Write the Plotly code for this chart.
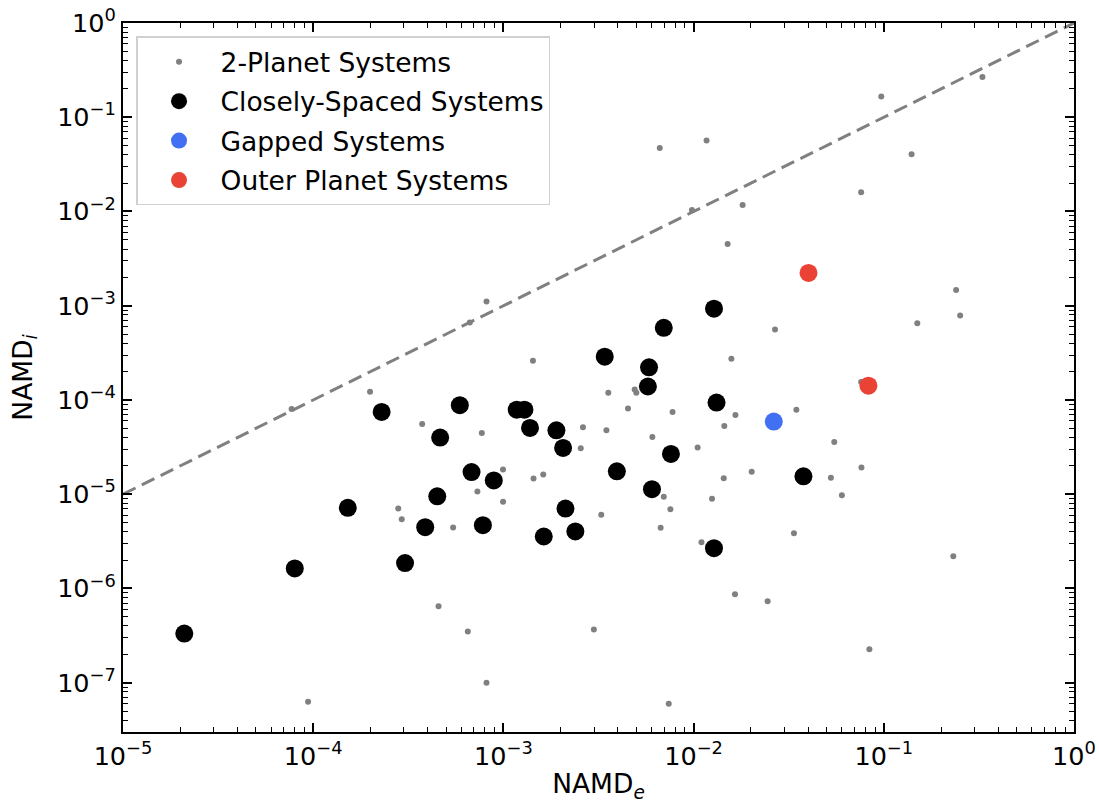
import numpy as np
import plotly.graph_objects as go

# ---- data ----
two_planet_x = [8.15e-4, 6.66e-4, 1.43e-3, 1.99e-4, 7.7e-5, 3.74e-4, 7.7e-4, 2.62e-3, 2.55e-3, 9.95e-4,
                1.44e-3, 1.62e-3, 7.3e-4, 9.96e-4, 2.8e-4, 2.92e-4, 5.44e-4, 4.56e-4, 6.5e-4, 2.99e-3,
                8.15e-4, 9.4e-5, 6.64e-3, 1.17e-2, 9.7e-2, 0.33, 0.14, 7.6e-2, 1.81e-2, 9.8e-3,
                1.51e-2, 0.240, 0.252, 0.150, 2.68e-2, 1.58e-2, 3.56e-3, 4.9e-3, 5.0e-3, 7.6e-2,
                4.52e-3, 7.75e-3, 1.66e-2, 1.45e-2, 3.47e-2, 3.48e-3, 6.07e-3, 5.49e-2, 1.05e-2, 2.02e-2,
                1.44e-2, 5.27e-2, 7.63e-2, 6.02e-2, 6.97e-3, 1.25e-2, 7.55e-3, 3.27e-3, 6.71e-3, 3.37e-2,
                1.10e-2, 0.232, 1.65e-2, 2.45e-2, 8.4e-2, 7.4e-3]
two_planet_y = [1.11e-3, 6.64e-4, 2.61e-4, 1.22e-4, 8.0e-5, 5.57e-5, 4.47e-5, 5.13e-5, 3.07e-5, 1.83e-5,
                1.47e-5, 1.62e-5, 1.07e-5, 8.3e-6, 7.05e-6, 5.43e-6, 4.44e-6, 6.47e-7, 3.49e-7, 3.66e-7,
                1.0e-7, 6.27e-8, 4.71e-2, 5.68e-2, 0.166, 0.268, 4.04e-2, 1.6e-2, 1.17e-2, 1.04e-2,
                4.53e-3, 1.47e-3, 7.9e-4, 6.5e-4, 5.6e-4, 2.74e-4, 1.19e-4, 1.29e-4, 1.19e-4, 1.55e-4,
                8.1e-5, 7.46e-5, 6.93e-5, 5.3e-5, 7.9e-5, 4.77e-5, 4.06e-5, 3.59e-5, 3.13e-5, 1.73e-5,
                1.48e-5, 1.50e-5, 1.92e-5, 9.76e-6, 9.38e-6, 8.93e-6, 6.93e-6, 6.05e-6, 4.4e-6, 3.86e-6,
                3.1e-6, 2.2e-6, 8.7e-7, 7.3e-7, 2.26e-7, 6.0e-8]

close_x = [2.1e-5, 8.0e-5, 1.52e-4, 2.29e-4, 3.04e-4, 3.88e-4, 4.49e-4, 4.65e-4, 5.9e-4, 6.8e-4,
           7.8e-4, 8.9e-4, 1.175e-3, 1.29e-3, 1.38e-3, 1.90e-3, 2.06e-3, 2.12e-3, 1.63e-3, 2.39e-3,
           3.41e-3, 3.95e-3, 5.83e-3, 5.75e-3, 6.04e-3, 6.97e-3, 7.6e-3, 1.28e-2, 1.32e-2, 1.28e-2,
           3.78e-2]
close_y = [3.32e-7, 1.63e-6, 7.18e-6, 7.46e-5, 1.86e-6, 4.47e-6, 9.5e-6, 3.99e-5, 8.8e-5, 1.72e-5,
           4.7e-6, 1.40e-5, 7.9e-5, 7.9e-5, 5.05e-5, 4.77e-5, 3.10e-5, 7.05e-6, 3.56e-6, 4.03e-6,
           2.88e-4, 1.75e-5, 2.22e-4, 1.39e-4, 1.13e-5, 5.83e-4, 2.68e-5, 9.3e-4, 9.4e-5, 2.68e-6,
           1.55e-5]

gapped_x = [2.64e-2]
gapped_y = [5.9e-5]

outer_x = [4.02e-2, 8.3e-2]
outer_y = [2.23e-3, 1.42e-4]

ref_line = [1e-5, 1.0]  # y = x

x_tick_exps = [-5, -4, -3, -2, -1, 0]
y_tick_exps = [-7, -6, -5, -4, -3, -2, -1, 0]
y_min = 3e-8

FONT = "DejaVu Sans"
MINUS = "\u2212"


def tick_text(e):
    return "10<sup>" + (MINUS if e < 0 else "") + str(abs(e)) + "</sup>"


def minor_vals(lo_exp, hi_exp, lo_val=None):
    vals = []
    for e in range(lo_exp, hi_exp):
        for k in range(2, 10):
            v = k * 10.0 ** e
            if lo_val is None or v >= lo_val:
                vals.append(v)
    return vals


fig = go.Figure()

fig.add_trace(go.Scatter(x=two_planet_x, y=two_planet_y, mode="markers", name="2-Planet Systems",
                         legendgroup="a", marker=dict(color="#808080", size=6, line=dict(width=0))))
fig.add_trace(go.Scatter(x=close_x, y=close_y, mode="markers", name="Closely-Spaced Systems",
                         legendgroup="b", marker=dict(color="#000000", size=18, line=dict(width=0))))
fig.add_trace(go.Scatter(x=gapped_x, y=gapped_y, mode="markers", name="Gapped Systems",
                         legendgroup="c", marker=dict(color="#4270F2", size=18, line=dict(width=0))))
fig.add_trace(go.Scatter(x=outer_x, y=outer_y, mode="markers", name="Outer Planet Systems",
                         legendgroup="d", marker=dict(color="#EA4335", size=18, line=dict(width=0))))
fig.add_trace(go.Scatter(x=ref_line, y=ref_line, mode="lines", showlegend=False,
                         line=dict(color="#808080", width=3, dash="14px,7px")))

# grid lines drawn above the markers (as in the reference)
for e in x_tick_exps[1:-1]:
    fig.add_shape(type="line", xref="x", yref="y domain", x0=e, x1=e, y0=0, y1=1,
                  line=dict(color="#e3e3e3", width=1.5), layer="above")
for e in y_tick_exps[:-1]:
    fig.add_shape(type="line", xref="x domain", yref="y", x0=0, x1=1, y0=e, y1=e,
                  line=dict(color="#e3e3e3", width=1.5), layer="above")

axis_common = dict(
    showgrid=False, zeroline=False, showline=True, linecolor="black", linewidth=2,
    mirror="allticks", ticks="inside", ticklen=9, tickwidth=1.5, tickcolor="black",
    tickfont=dict(family=FONT, size=25.5, color="black"),
)

fig.update_xaxes(
    type="log", range=[-5, 0], tickmode="array",
    tickvals=[10.0 ** e for e in x_tick_exps], ticktext=[tick_text(e) for e in x_tick_exps],
    minor=dict(tickmode="array", tickvals=minor_vals(-5, 0), ticks="inside", ticklen=5,
               tickwidth=1.2, tickcolor="black", showgrid=False),
    title=dict(text="NAMD<sub><i>e</i></sub>", font=dict(family=FONT, size=26.5, color="black"), standoff=17),
    **axis_common,
)
fig.update_yaxes(
    type="log", range=[np.log10(y_min), 0], tickmode="array",
    tickvals=[10.0 ** e for e in y_tick_exps], ticktext=[tick_text(e) for e in y_tick_exps],
    minor=dict(tickmode="array", tickvals=minor_vals(-8, 0, y_min), ticks="inside", ticklen=5,
               tickwidth=1.2, tickcolor="black", showgrid=False),
    title=dict(text="NAMD<sub><i>i</i></sub>", font=dict(family=FONT, size=26.5, color="black"), standoff=17),
    **axis_common,
)

fig.update_layout(
    width=1099, height=803,
    margin=dict(l=123, r=25, t=23, b=71, autoexpand=False),
    paper_bgcolor="white", plot_bgcolor="white",
    font=dict(family=FONT, color="black"),
    legend=dict(
        x=0.0137, y=0.981, xanchor="left", yanchor="top",
        bgcolor="rgba(255,255,255,0.85)", bordercolor="#d0d0d0", borderwidth=1.5,
        font=dict(family=FONT, size=26.5, color="black"),
        tracegroupgap=2, traceorder="grouped", itemwidth=73,
    ),
)

fig.write_html("out.html")
